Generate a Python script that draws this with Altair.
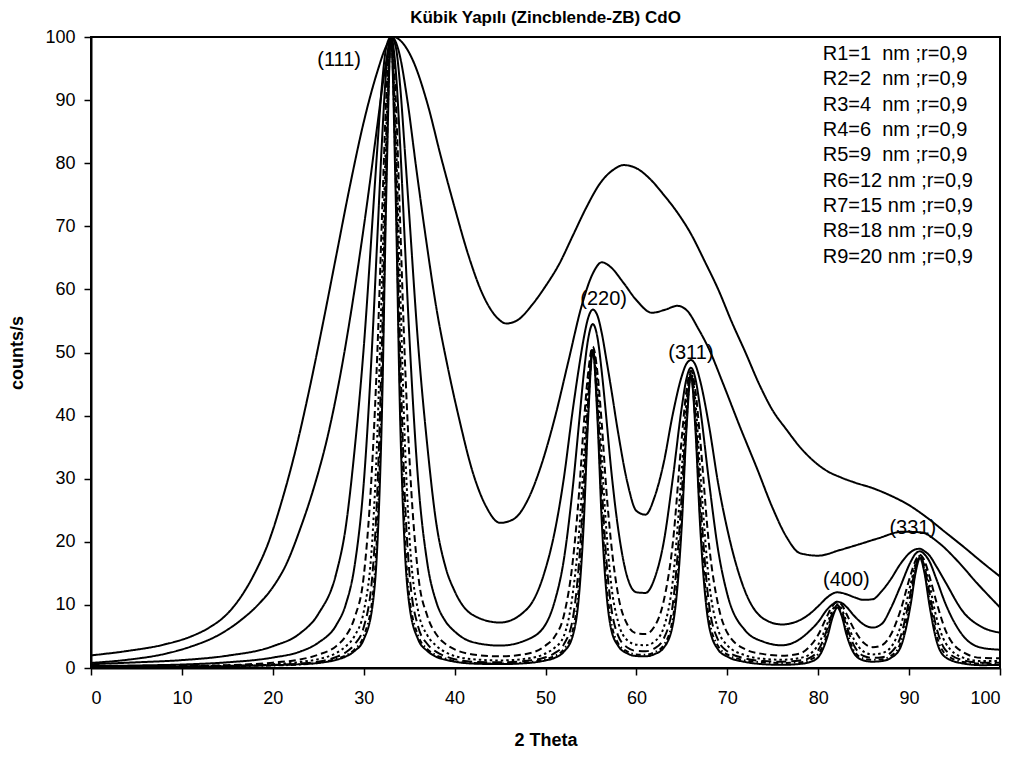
import altair as alt
import pandas as pd

# ---------------- data ----------------
x_grid = [0, 5, 10, 15, 20, 23, 25, 27, 28, 29, 30, 31, 31.5, 32, 32.5, 33, 33.5, 34, 34.5, 35,
          36, 37, 38, 39, 40, 42, 45, 48, 50, 51, 52, 53, 53.7, 54.2, 54.7, 55.2, 55.7, 56.2, 56.7, 57.2,
          58, 59, 60, 61, 62, 63, 64, 65, 65.5, 66, 66.5, 67, 68, 69, 70, 72, 74, 76, 78, 79, 80, 81,
          81.6, 82.1, 82.6, 83.1, 84, 85, 86, 87, 88, 89, 90.2, 90.7, 91.2, 91.7, 92.2, 93, 94, 96, 98, 100]

r1_x = [0, 4, 8, 11, 13, 15, 16.5, 18, 19.5, 21, 22.5, 24, 25.5, 27, 28.5, 30, 31.5, 32.5, 33.3, 34.2,
        35.5, 37, 38.5, 40, 41.5, 43, 44.5, 45.7, 47, 48.5, 50, 51.5, 53, 54.5, 56, 57.5, 58.6, 60, 61.5, 63,
        64.5, 66, 67.5, 69, 70.5, 72, 73.5, 75, 76.5, 78, 79.5, 81, 82.5, 84, 86, 88, 90, 92, 94, 96, 98, 100]
r1_y = [2.0, 2.7, 3.7, 5.0, 6.4, 8.6, 11.3, 15, 19.8, 26.5, 34.5, 44, 54.5, 65.5, 76.5, 86.5, 94.5, 98.6, 100, 99.2,
        96, 89.5, 81, 73, 65.5, 59.5, 55.8, 54.6, 55.2, 57.5, 60.5, 64, 68.5, 73, 76.8, 79, 79.7, 79.2, 77.5, 75,
        72.2, 68.8, 64.5, 60, 54.8, 50, 45, 40.8, 37.8, 35, 32.8, 31.2, 30.2, 29.4, 28.5, 27.3, 25.8, 23.8, 21.5, 19.2, 16.8, 14.5]

r2_x = [0, 4, 8, 11, 14, 16.5, 18.5, 20, 21.5, 23, 24.5, 26, 27.5, 29, 30.5, 31.5, 32.3, 33.1, 33.9, 34.8,
        35.8, 36.9, 38, 39.2, 40.5, 42, 43.5, 45, 46.5, 48, 49.5, 51, 52.5, 54, 55.2, 56.2, 57.2, 58.5, 60, 61.7,
        63.2, 64.5, 65.6, 66.8, 68, 69.5, 71.4, 73.3, 75, 76.5, 78, 80, 82.4, 84.5, 86.5, 89.3, 91.3, 93.3, 95.3, 97.5, 100]
r2_y = [0.8, 1.3, 2.2, 3.4, 5.2, 7.6, 10.2, 12.8, 16.5, 22, 28.5, 36.5, 47, 60, 75, 86, 94.5, 100, 97.5, 90,
        79, 67.5, 57, 48, 39.5, 31, 25.5, 23, 23.6, 26.5, 32, 39.5, 48.5, 57.5, 62.5, 64.3, 63.5, 61.2, 58.3, 56.3,
        56.8, 57.4, 56.6, 53.8, 50.5, 45.2, 38.2, 31.5, 25.3, 20.8, 18.2, 17.8, 18.7, 19.6, 20.5, 21.6, 21.5, 19.8, 17.0, 13.4, 9.6]

r3_y = [0.6, 0.9, 1.25, 1.95, 3.45, 5.5, 8.55, 15.1, 22.1, 34.6, 50.7, 71.7, 82.4, 92.3, 98.5, 100, 98.6, 92.4, 82.5, 72.0,
        51.1, 35.2, 22.8, 16.0, 12.2, 8.4, 7.2, 9.4, 15.7, 21.5, 29.9, 40.9, 47.8, 52.2, 55.5, 56.8, 55.9, 53.0, 48.85, 44.5,
        37.2, 29.45, 24.9, 24.3, 27.1, 32.5, 40.2, 46.3, 48.2, 48.8, 48.0, 45.6, 38.3, 29.2, 22.0, 12.0, 7.8, 6.9, 7.6, 8.5, 9.8, 11.2,
        11.8, 12.0, 11.9, 11.7, 11.2, 10.8, 10.9, 12.2, 14.1, 16.4, 18.4, 18.8, 18.9, 18.5, 17.9, 16.1, 13.6, 8.8, 6.5, 5.6]

r4_y = [0.3, 0.4, 0.55, 0.9, 1.65, 2.6, 4.0, 6.85, 9.95, 16.2, 29.2, 53.2, 68.2, 83.2, 95.2, 100, 95.2, 83.2, 68.2, 53.2,
        29.5, 16.6, 10.4, 7.4, 5.8, 4.1, 3.55, 4.5, 6.9, 10.5, 17.0, 28.6, 39.0, 46.5, 52.2, 54.5, 52.5, 46.8, 39.5, 31.8,
        22.0, 14.4, 12.0, 11.9, 14.2, 19.9, 30.0, 41.4, 45.8, 47.6, 45.8, 41.3, 29.4, 18.6, 11.7, 5.9, 4.15, 3.6, 4.6, 5.8, 7.3, 9.3,
        10.1, 10.5, 10.3, 9.7, 8.2, 6.9, 6.4, 7.0, 9.5, 12.8, 16.9, 18.1, 18.5, 18.0, 17.0, 14.1, 10.2, 5.0, 3.2, 2.9]

r5_y = [0.2, 0.2, 0.3, 0.45, 0.85, 1.35, 2.1, 3.5, 5.0, 8.0, 14.5, 34, 50, 71, 91, 100, 91, 71, 50, 34.1,
        14.7, 8.25, 5.3, 3.8, 2.95, 2.15, 1.85, 2.25, 3.55, 4.95, 8.2, 16.9, 27.9, 38.4, 46.9, 50.95, 47.0, 38.5, 28.1, 20.1,
        11.5, 6.9, 5.5, 5.4, 6.6, 10.6, 19.7, 36.6, 43.9, 47.1, 43.9, 36.5, 19.4, 9.95, 5.6, 2.95, 2.2, 1.95, 2.3, 3.3, 5.25, 8.3,
        9.9, 10.5, 10.0, 8.6, 6.0, 4.0, 3.3, 3.6, 5.3, 8.9, 14.9, 17.0, 17.9, 17.0, 14.75, 10.5, 6.0, 2.45, 1.6, 1.55]

r6_y = [0.2, 0.25, 0.3, 0.4, 0.6, 0.95, 1.4, 2.4, 3.4, 5.1, 8.9, 21.6, 37, 61, 86, 100, 86, 61, 37, 21.6,
        8.95, 5.2, 3.5, 2.5, 1.9, 1.4, 1.2, 1.5, 2.3, 3.2, 5.0, 11.8, 21.6, 32.9, 45.1, 50.6, 45.2, 33.0, 21.75, 13.6,
        7.25, 4.4, 3.7, 3.6, 4.2, 6.4, 13.8, 31.6, 42.1, 46.8, 42.1, 31.6, 13.6, 6.05, 3.6, 2.0, 1.45, 1.3, 1.6, 2.1, 3.7, 7.0,
        9.3, 10.1, 9.3, 7.4, 4.35, 2.6, 2.15, 2.35, 3.3, 6.3, 13.5, 16.5, 17.8, 16.5, 13.5, 8.05, 4.0, 1.6, 1.1, 1.1]

r7_y = [0.15, 0.2, 0.25, 0.35, 0.5, 0.7, 1.0, 1.75, 2.45, 3.75, 6.45, 15.5, 28, 51, 82.5, 100, 82.5, 51, 28, 15.6,
        6.5, 3.8, 2.55, 1.85, 1.4, 1.0, 0.9, 1.15, 1.7, 2.35, 3.7, 7.8, 16.95, 28.5, 42.5, 50.5, 42.55, 28.6, 17.1, 9.95,
        5.1, 3.25, 2.7, 2.65, 3.1, 4.65, 10.05, 27.7, 40.15, 46.55, 40.15, 27.7, 9.95, 4.4, 2.65, 1.5, 1.1, 1.0, 1.2, 1.55, 2.8, 6.2,
        8.9, 9.95, 8.95, 6.7, 3.4, 1.9, 1.6, 1.7, 2.45, 4.7, 12.2, 16.0, 17.7, 16.0, 12.2, 6.45, 2.85, 1.2, 0.85, 0.85]

r8_y = [0.12, 0.17, 0.22, 0.3, 0.4, 0.55, 0.8, 1.45, 1.95, 2.95, 5.05, 11.5, 22, 44, 79, 100, 79, 44, 22, 11.6,
        5.1, 3.0, 2.0, 1.5, 1.1, 0.8, 0.7, 0.9, 1.4, 1.9, 2.95, 6.0, 13.4, 24.9, 40.9, 50.4, 41.0, 25.0, 13.6, 7.5,
        3.9, 2.6, 2.15, 2.1, 2.5, 3.6, 7.8, 24.4, 38.65, 46.45, 38.65, 24.4, 7.75, 3.45, 2.15, 1.2, 0.9, 0.8, 0.9, 1.25, 2.2, 5.4,
        8.5, 9.8, 8.5, 6.0, 2.6, 1.5, 1.3, 1.4, 1.9, 3.75, 11.1, 15.4, 17.6, 15.4, 11.1, 5.3, 2.2, 0.95, 0.7, 0.7]

r9_y = [0.1, 0.15, 0.2, 0.3, 0.45, 0.6, 0.8, 1.3, 1.8, 2.7, 4.5, 10.2, 19.4, 40, 76, 100, 76, 40, 19.4, 10.2,
        4.5, 2.7, 1.75, 1.3, 1.0, 0.7, 0.62, 0.78, 1.2, 1.6, 2.55, 5.1, 11.7, 22.7, 39.8, 50.3, 39.9, 22.9, 11.9, 6.3,
        3.5, 2.3, 1.9, 1.85, 2.2, 3.2, 6.8, 22.8, 37.6, 46.3, 37.6, 22.8, 6.6, 2.9, 1.8, 0.95, 0.6, 0.5, 0.65, 0.9, 1.7, 4.9,
        8.1, 9.6, 8.2, 5.35, 2.2, 1.2, 1.0, 1.1, 1.6, 3.1, 10.3, 15.0, 17.4, 15.0, 10.3, 4.4, 1.7, 0.7, 0.45, 0.5]

series_names = ["R1", "R2", "R3", "R4", "R5", "R6", "R7", "R8", "R9"]
legend_texts = ["R1=1\u00a0 nm ;r=0,9", "R2=2\u00a0 nm ;r=0,9", "R3=4\u00a0 nm ;r=0,9",
                "R4=6\u00a0 nm ;r=0,9", "R5=9\u00a0 nm ;r=0,9", "R6=12 nm ;r=0,9",
                "R7=15 nm ;r=0,9", "R8=18 nm ;r=0,9", "R9=20 nm ;r=0,9"]
legend_x = [80.5] * 9
legend_y = [97.3, 93.3, 89.3, 85.3, 81.25, 77.2, 73.2, 69.2, 65.2]

peak_labels = ["(111)", "(220)", "(311)", "(400)", "(331)"]
peak_x = [27.3, 56.4, 66.0, 83.1, 90.4]
peak_y = [96.4, 58.5, 50.0, 13.9, 22.2]

title_text = ["Kübik Yapılı (Zincblende-ZB) CdO"]
title_x = [50.0]
title_y = [102.25]

# ---------------- build tables ----------------
series_x = {"R1": r1_x, "R2": r2_x}
series_y = {"R1": r1_y, "R2": r2_y, "R3": r3_y, "R4": r4_y, "R5": r5_y,
            "R6": r6_y, "R7": r7_y, "R8": r8_y, "R9": r9_y}
rows = []
for s in series_names:
    xs = series_x.get(s, x_grid)
    ys = series_y[s]
    for xv, yv in zip(xs, ys):
        rows.append({"series": s, "x": xv, "y": yv})
df = pd.DataFrame(rows)

leg_df = pd.DataFrame({"x": legend_x, "y": legend_y, "t": legend_texts})
pk_df = pd.DataFrame({"x": peak_x, "y": peak_y, "t": peak_labels})
tt_df = pd.DataFrame({"x": title_x, "y": title_y, "t": title_text})

FONT = "Liberation Sans"
dashes = [[1, 0], [1, 0], [1, 0], [1, 0], [7, 4], [2.5, 3], [10, 5], [5, 3, 1.5, 3], [1, 0]]
widths = [2, 2, 2, 2, 2.5, 3, 1.2, 1.5, 3]

xaxis = alt.Axis(values=list(range(0, 101, 10)), title="2 Theta", grid=False,
                 tickSize=7, labelPadding=14, titlePadding=24)
yaxis = alt.Axis(values=list(range(0, 101, 10)), title="counts/s", grid=False,
                 tickSize=7, labelPadding=9, titlePadding=18)

xs_ = alt.Scale(domain=[0, 100], nice=False, zero=False)
ys_ = alt.Scale(domain=[0, 100], nice=False)

lines = alt.Chart(df).mark_line(interpolate="monotone", color="black", clip=True).encode(
    x=alt.X("x:Q", scale=xs_, axis=xaxis),
    y=alt.Y("y:Q", scale=ys_, axis=yaxis),
    detail="series:N",
    strokeDash=alt.StrokeDash("series:N", scale=alt.Scale(domain=series_names, range=dashes), legend=None),
    strokeWidth=alt.StrokeWidth("series:N", scale=alt.Scale(domain=series_names, range=widths), legend=None),
)

peaks = alt.Chart(pk_df).mark_text(font=FONT, fontSize=20, color="black", baseline="middle", align="center").encode(
    x="x:Q", y="y:Q", text="t:N")

legend = alt.Chart(leg_df).mark_text(font=FONT, fontSize=20, color="black", baseline="middle", align="left").encode(
    x="x:Q", y="y:Q", text="t:N")

title = alt.Chart(tt_df).mark_text(font=FONT, fontSize=17, fontWeight="bold", color="black",
                                   baseline="alphabetic", align="center").encode(
    x="x:Q", y="y:Q", text="t:N")

chart = alt.layer(lines, peaks, legend, title).properties(
    width=909, height=631,
    autosize=alt.AutoSizeParams(type="none"),
    padding={"left": 83, "top": 29, "right": 16, "bottom": 84},
).configure_view(stroke="black", strokeWidth=2).configure_axis(
    labelFont=FONT, labelFontSize=18, labelColor="black",
    titleFont=FONT, titleFontSize=18, titleFontWeight="bold", titleColor="black",
    domainColor="black", domainWidth=2, tickColor="black", tickWidth=1.5,
)

chart.save("out.html", embed_options={"renderer": "svg", "actions": False})
